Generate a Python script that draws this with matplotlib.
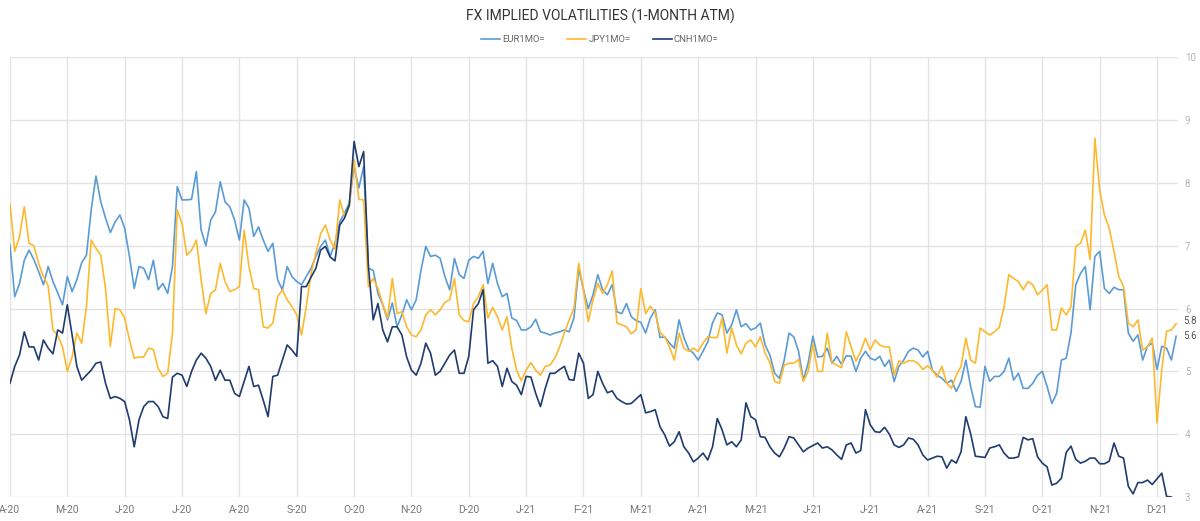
import numpy as np
import matplotlib
matplotlib.use("Agg")
import matplotlib.pyplot as plt

plt.rcParams['font.family'] = ['Roboto', 'DejaVu Sans']

months = ["A-20", "M-20", "J-20", "J-20", "A-20", "S-20", "O-20", "N-20", "D-20",
          "J-21", "F-21", "M-21", "A-21", "M-21", "J-21", "J-21", "A-21", "S-21",
          "O-21", "N-21", "D-21"]
points_per_month = 12

eur = [7.01, 6.19, 6.40, 6.77, 6.93, 6.78, 6.59, 6.38, 6.67, 6.43, 6.25, 6.06,
       6.51, 6.27, 6.46, 6.73, 6.85, 7.57, 8.11, 7.70, 7.44, 7.21, 7.38, 7.49,
       7.28, 6.83, 6.32, 6.67, 6.64, 6.46, 6.77, 6.30, 6.40, 6.24, 6.67, 7.94,
       7.73, 7.73, 7.74, 8.18, 7.25, 7.00, 7.41, 7.54, 8.02, 7.70, 7.62, 7.41,
       7.09, 7.73, 7.60, 7.15, 7.30, 7.09, 6.91, 7.04, 6.46, 6.30, 6.67, 6.51,
       6.43, 6.38, 6.51, 6.64, 6.83, 6.99, 7.09, 6.83, 7.04, 7.38, 7.52, 7.68,
       8.26, 7.92, 8.26, 6.64, 6.61, 6.24, 6.06, 5.82, 6.09, 5.71, 5.90, 6.14,
       5.98, 6.14, 6.61, 6.99, 6.83, 6.85, 6.80, 6.51, 6.30, 6.80, 6.54, 6.48,
       6.77, 6.83, 6.80, 6.91, 6.40, 6.72, 6.40, 6.19, 6.24, 5.85, 5.81, 5.66,
       5.66, 5.71, 5.83, 5.63, 5.61, 5.58, 5.61, 5.63, 5.66, 5.63, 5.85, 6.64,
       6.30, 6.00, 6.22, 6.54, 6.30, 6.22, 6.38, 5.95, 5.92, 6.08, 5.87, 5.81,
       5.78, 5.61, 5.85, 5.98, 5.54, 5.55, 5.45, 5.37, 5.82, 5.54, 5.35, 5.29,
       5.18, 5.32, 5.47, 5.77, 5.93, 5.90, 5.61, 5.74, 5.98, 5.71, 5.76, 5.66,
       5.69, 5.77, 5.42, 5.26, 4.97, 4.89, 5.18, 5.61, 5.55, 5.32, 4.86, 5.13,
       5.56, 5.23, 5.24, 5.37, 5.13, 5.24, 5.11, 5.25, 5.24, 5.00, 5.21, 5.32,
       5.21, 5.18, 5.24, 5.08, 5.18, 4.84, 5.08, 5.18, 5.32, 5.37, 5.34, 5.23,
       5.32, 5.02, 4.94, 4.89, 4.81, 4.86, 4.68, 4.84, 5.18, 4.76, 4.44, 4.43,
       5.08, 4.84, 4.92, 4.92, 5.00, 5.21, 4.86, 4.97, 4.73, 4.73, 4.81, 4.94,
       5.00, 4.76, 4.49, 4.65, 5.18, 5.21, 5.61, 6.38, 6.56, 6.67, 5.98, 6.83,
       6.91, 6.32, 6.24, 6.34, 6.30, 6.30, 5.61, 5.48, 5.58, 5.18, 5.40, 5.45,
       5.03, 5.40, 5.37, 5.18, 5.56]

jpy = [7.67, 6.91, 7.15, 7.62, 7.04, 7.00, 6.72, 6.51, 6.36, 5.66, 5.57, 5.39,
       5.00, 5.23, 5.61, 5.45, 6.03, 7.09, 6.96, 6.85, 6.32, 5.40, 6.00, 5.98,
       5.85, 5.50, 5.21, 5.23, 5.23, 5.37, 5.35, 5.05, 4.92, 4.97, 5.61, 7.57,
       7.36, 6.85, 6.93, 7.09, 6.46, 5.92, 6.24, 6.30, 6.72, 6.43, 6.27, 6.30,
       6.35, 7.25, 6.67, 6.32, 6.30, 5.71, 5.69, 5.77, 6.19, 6.30, 6.14, 6.03,
       5.90, 5.58, 6.03, 6.56, 6.88, 7.19, 7.33, 7.09, 6.95, 7.73, 7.47, 7.62,
       8.37, 7.74, 7.73, 6.35, 6.48, 6.32, 6.07, 5.85, 6.48, 5.92, 5.95, 5.71,
       5.58, 5.55, 5.66, 5.90, 5.98, 5.90, 5.98, 6.10, 6.14, 6.48, 5.90, 5.81,
       5.79, 6.08, 6.19, 6.38, 5.85, 6.02, 5.87, 5.66, 5.87, 5.37, 5.02, 4.85,
       5.02, 5.14, 5.02, 4.94, 5.08, 5.10, 5.21, 5.39, 5.61, 5.82, 6.00, 6.72,
       6.30, 5.79, 6.14, 6.40, 6.24, 6.38, 6.60, 5.77, 5.74, 5.71, 5.60, 5.66,
       6.32, 5.92, 6.04, 5.93, 5.62, 5.55, 5.39, 5.18, 5.61, 5.37, 5.32, 5.37,
       5.32, 5.45, 5.55, 5.54, 5.54, 5.85, 5.29, 5.69, 5.42, 5.28, 5.45, 5.50,
       5.39, 5.55, 5.29, 5.14, 4.84, 4.81, 5.10, 5.13, 5.13, 5.19, 4.84, 5.00,
       5.44, 5.00, 5.00, 5.61, 5.14, 5.10, 5.06, 5.63, 5.39, 5.16, 5.32, 5.53,
       5.34, 5.50, 5.42, 5.39, 5.39, 4.94, 5.17, 5.13, 5.17, 5.17, 5.13, 5.03,
       5.09, 5.02, 4.91, 5.08, 4.81, 4.73, 4.94, 5.08, 5.53, 5.18, 5.13, 5.69,
       5.63, 5.58, 5.63, 5.70, 6.03, 6.54, 6.48, 6.43, 6.30, 6.43, 6.38, 6.22,
       6.29, 6.38, 5.66, 5.66, 6.01, 5.90, 6.03, 6.99, 7.04, 7.25, 6.78, 8.71,
       7.89, 7.49, 7.28, 6.91, 6.51, 6.35, 5.77, 5.71, 5.82, 5.34, 5.39, 5.53,
       4.18, 5.03, 5.64, 5.66, 5.76]

cnh = [4.81, 5.08, 5.26, 5.63, 5.39, 5.39, 5.18, 5.50, 5.37, 5.28, 5.66, 5.61,
       6.06, 5.58, 5.08, 4.86, 4.94, 5.02, 5.13, 5.15, 4.81, 4.57, 4.60, 4.57,
       4.52, 4.23, 3.80, 4.23, 4.44, 4.52, 4.52, 4.44, 4.28, 4.25, 4.91, 4.97,
       4.94, 4.76, 5.00, 5.18, 5.29, 5.21, 5.08, 4.86, 5.02, 4.86, 4.86, 4.65,
       4.60, 4.84, 5.08, 4.76, 4.78, 4.54, 4.28, 4.92, 4.94, 5.18, 5.42, 5.34,
       5.24, 6.35, 6.35, 6.50, 6.64, 6.93, 6.99, 6.82, 6.76, 7.33, 7.44, 7.65,
       8.66, 8.26, 8.50, 6.67, 5.82, 6.08, 5.66, 5.47, 5.71, 5.71, 5.58, 5.23,
       5.02, 4.94, 5.13, 5.45, 5.29, 4.94, 5.00, 5.13, 5.26, 5.34, 4.97, 4.97,
       5.24, 5.98, 6.08, 6.30, 5.13, 5.17, 5.08, 4.76, 5.05, 4.84, 4.78, 4.63,
       4.92, 4.91, 4.65, 4.44, 4.73, 4.97, 4.97, 5.03, 5.08, 4.87, 4.86, 5.29,
       5.13, 4.57, 4.63, 5.00, 4.81, 4.66, 4.69, 4.57, 4.52, 4.48, 4.49, 4.56,
       4.63, 4.34, 4.36, 4.39, 4.12, 3.99, 3.81, 3.88, 4.04, 3.80, 3.70, 3.56,
       3.62, 3.70, 3.59, 3.80, 4.25, 4.07, 3.83, 3.88, 3.80, 3.91, 4.50, 4.28,
       4.23, 3.96, 3.95, 3.80, 3.70, 3.64, 3.78, 3.96, 3.94, 3.83, 3.72, 3.78,
       3.82, 3.86, 3.78, 3.80, 3.75, 3.67, 3.60, 3.83, 3.86, 3.70, 3.74, 4.39,
       4.15, 4.04, 4.03, 4.11, 4.00, 3.83, 3.79, 3.83, 3.94, 3.92, 3.83, 3.67,
       3.59, 3.62, 3.65, 3.64, 3.46, 3.59, 3.54, 3.72, 4.28, 4.01, 3.65, 3.64,
       3.63, 3.78, 3.80, 3.83, 3.70, 3.62, 3.62, 3.64, 3.95, 3.91, 3.93, 3.64,
       3.54, 3.48, 3.19, 3.22, 3.30, 3.71, 3.81, 3.60, 3.54, 3.57, 3.62, 3.62,
       3.53, 3.53, 3.57, 3.86, 3.65, 3.62, 3.17, 3.05, 3.23, 3.23, 3.27, 3.20,
       3.29, 3.38, 3.01, 3.00, np.nan]

series = [("EUR1MO=", eur, "#5B9BD5"),
          ("JPY1MO=", jpy, "#FDB92E"),
          ("CNH1MO=", cnh, "#1F3C6E")]

fig = plt.figure(figsize=(12, 5.21), dpi=100)
ax = fig.add_axes([0.0083, 0.046, 0.9734, 0.844])

n = len(eur)
x = np.arange(n)
for name, vals, col in series:
    ax.plot(x, vals, color=col, lw=1.2, label=name)

ax.set_xlim(0, n - 0.6)
ax.set_ylim(3, 10)
ax.set_yticks(range(3, 11))
ax.yaxis.tick_right()
ax.tick_params(axis='y', length=0, pad=5, labelsize=7, labelcolor='#b5b5b5')
ax.set_xticks(np.arange(len(months)) * points_per_month)
ax.set_xticklabels(months)
ax.tick_params(axis='x', length=0, pad=6, labelsize=7.5, labelcolor='#777777')
ax.grid(True, color='#e3e3e3', lw=1)
ax.set_axisbelow(True)
for s in ax.spines.values():
    s.set_visible(False)

# last values labels
ax.annotate(f"{jpy[-1]:.1f}", xy=(1, jpy[-1]), xycoords=('axes fraction', 'data'),
            xytext=(4, 2), textcoords='offset points', fontsize=7, color='#555555',
            va='center', ha='left')
ax.annotate(f"{eur[-1]:.1f}", xy=(1, eur[-1]), xycoords=('axes fraction', 'data'),
            xytext=(4, 0), textcoords='offset points', fontsize=7, color='#555555',
            va='center', ha='left')

fig.text(0.5, 0.968, "FX IMPLIED VOLATILITIES (1-MONTH ATM)", ha='center', va='center',
         fontsize=10, color='#333333')
fig.legend(loc='center', bbox_to_anchor=(0.5, 0.924), ncol=3, frameon=False,
           fontsize=6.8, handlelength=2.0, handletextpad=0.2, columnspacing=2.4,
           labelcolor='#666666')

fig.savefig("out.png", dpi=100)
